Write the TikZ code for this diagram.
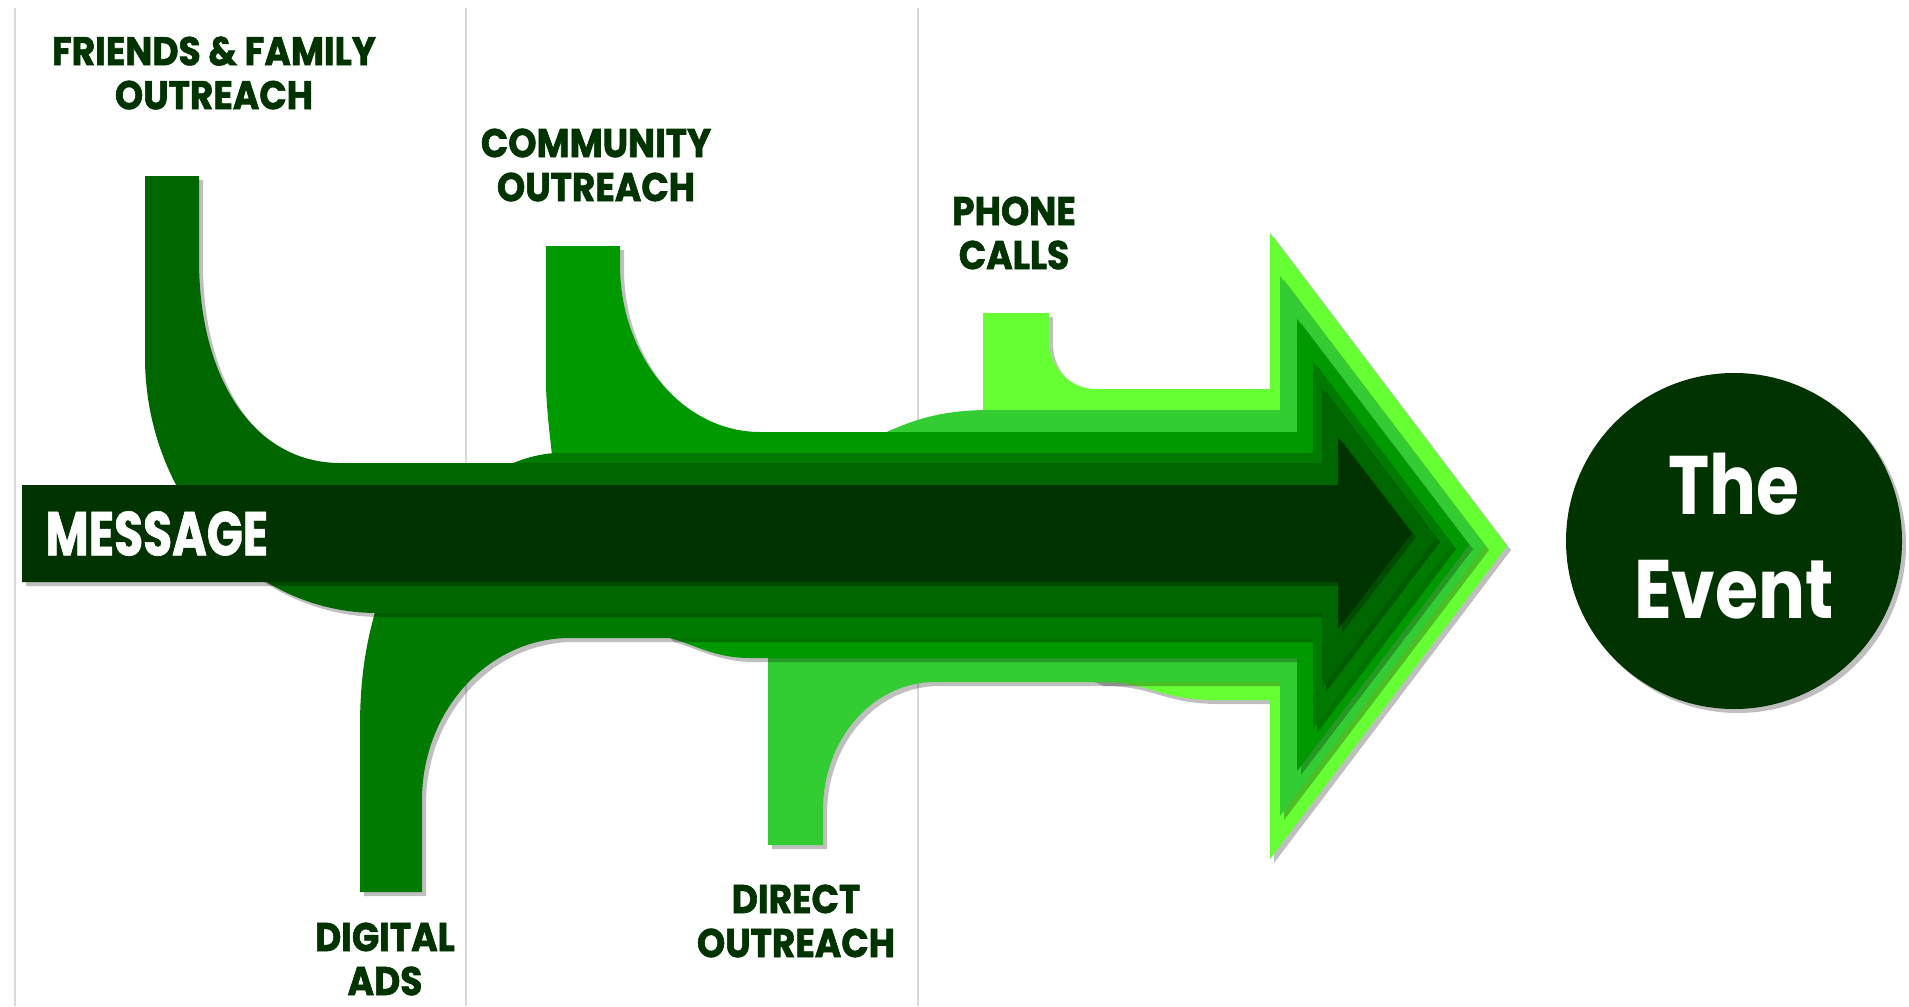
\documentclass[tikz,border=0pt]{standalone}
\usepackage{fontspec}
\setmainfont{Poppins}
\newfontfamily\labfont{Poppins}[FakeStretch=0.9, BoldFeatures={FakeBold=1.5}]
\newfontfamily\msgfont{Poppins}[FakeStretch=0.76, BoldFeatures={FakeBold=1}]
\newfontfamily\evtfont{Poppins}[FakeStretch=0.84]
\usetikzlibrary{shadows}
\definecolor{c1}{HTML}{66FF33}
\definecolor{c2}{HTML}{33CC33}
\definecolor{c3}{HTML}{009900}
\definecolor{c4}{HTML}{007A00}
\definecolor{c5}{HTML}{006600}
\definecolor{c6}{HTML}{003300}
\definecolor{gridgrey}{HTML}{D9D9D9}
\begin{document}
\begin{tikzpicture}[x=0.5pt,y=-0.5pt,
  layer/.style={drop shadow={shadow xshift=2pt,shadow yshift=-2pt,opacity=0.25,fill=black}},
  lbl/.style={font=\labfont\bfseries\fontsize{20}{22}\selectfont, text=c6, align=center, inner sep=0pt},
  divider/.style={draw=gridgrey, line width=1pt}]
\useasboundingbox (0,0) rectangle (1909,1006);
\fill[white] (0,0) rectangle (1909,1006);

% column dividers
\draw[divider] (15,8) -- (15,1006);
\draw[divider] (466,8) -- (466,1006);
\draw[divider] (918,8) -- (918,1006);

% layer 1: phone calls
\fill[c1, layer] (983,313) -- (1049,313) -- (1049,340) .. controls (1049,367) and (1070,389) .. (1095,389)
  -- (1270,389) -- (1270,233) -- (1507,546) -- (1270,859) -- (1270,700) -- (1215,700)
  .. controls (1160,700) and (1150,682) .. (1100,682) -- (1000,640) -- (983,560) -- cycle;

% layer 2: direct outreach
\fill[c2, layer] (990,410) -- (1280,410) -- (1280,276) -- (1485,546) -- (1280,816) -- (1280,682) -- (935,682)
  .. controls (873,682) and (823,739) .. (823,810) -- (823,845) -- (768,845) -- (768,658) -- (800,520)
  -- (870,440) .. controls (910,420) and (940,410) .. (990,410) -- cycle;

% layer 3: community outreach
\fill[c3, layer] (546,246) -- (620,246) -- (620,265) .. controls (620,357) and (683,432) .. (760,432)
  -- (1297,432) -- (1297,319) -- (1469,545) -- (1297,771) -- (1297,658) -- (750,658)
  .. controls (715,658) and (695,645) .. (670,638) -- (600,560) -- (552,455)
  .. controls (548,420) and (546,400) .. (546,380) -- cycle;

% layer 4: digital ads
\fill[c4, layer] (555,453) -- (1313,453) -- (1313,362) -- (1452,545) -- (1313,729) -- (1313,638) -- (570,638)
  .. controls (488,638) and (422,711) .. (422,800) -- (422,892) -- (360,892) -- (360,727)
  .. controls (360,670) and (368,630) .. (385,580) -- (480,480)
  .. controls (500,468) and (525,455) .. (555,453) -- cycle;

% layer 5: friends & family outreach
\fill[c5, layer] (145,176) -- (199,176) -- (199,260) .. controls (199,380) and (255,463) .. (340,463)
  -- (1322,463) -- (1322,388) -- (1436,538) -- (1322,688) -- (1322,613) -- (377,613)
  .. controls (249,613) and (145,498) .. (145,357) -- cycle;

% layer 6: message
\fill[c6, layer] (22,485) -- (1338,485) -- (1338,437) -- (1412,533) -- (1338,629) -- (1338,582) -- (22,582) -- cycle;

\node[font=\msgfont\bfseries\fontsize{31}{31}\selectfont, text=white, anchor=west, inner sep=0pt] (message) at (45,533.5) {MESSAGE};

% the event
\node[circle, fill=c6, minimum size=168pt, inner sep=0pt,
  drop shadow={shadow xshift=2pt,shadow yshift=-2pt,opacity=0.25,fill=black}] (event) at (1734,541) {};
\node[font=\evtfont\bfseries\fontsize{41.5}{52}\selectfont, text=white, align=center, inner sep=0pt] (eventlabel) at (1734,536) {The\\Event};

% labels
\node[lbl] (friends) at (214,73) {FRIENDS \& FAMILY\\OUTREACH};
\node[lbl] (community) at (596,165) {COMMUNITY\\OUTREACH};
\node[lbl] (phone) at (1014,233) {PHONE\\CALLS};
\node[lbl] (digital) at (385,959) {DIGITAL\\ADS};
\node[lbl] (direct) at (796,921) {DIRECT\\OUTREACH};
\end{tikzpicture}
\end{document}
